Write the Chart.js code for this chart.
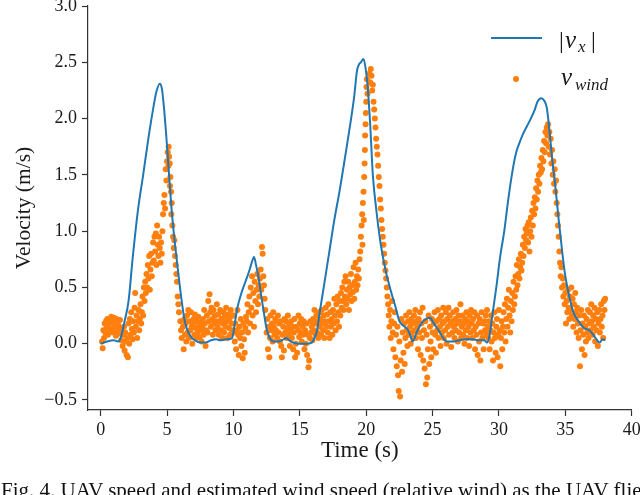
<!DOCTYPE html>
<html>
<head>
<meta charset="utf-8">
<script src="https://cdn.jsdelivr.net/npm/chart.js@4.4.0/dist/chart.umd.min.js"></script>
<style>
  html, body { margin: 0; padding: 0; background: #fff; overflow: hidden; }
  #wrap { position: relative; width: 640px; height: 495px; overflow: hidden; }
  #caption { position: absolute; left: 1px; top: 480px; font: 21px/1 "Liberation Serif", serif; white-space: nowrap; color: #111; }
</style>
</head>
<body>
<div id="wrap">
  <canvas id="chart" width="640" height="495"></canvas>
  <div id="caption">Fig. 4. UAV speed and estimated wind speed (relative wind) as the UAV flies</div>
</div>
<script>
// |v_x| : UAV speed, [time s, velocity m/s]
const vxSamples = [
  [0,0.0],[0.5,0.02],[1.0,0.03],[1.3,0.02],[1.5,0.05],[1.8,0.2],[2.1,0.38],[2.4,0.75],[2.8,1.18],[3.2,1.5],
  [3.6,1.83],[4.0,2.12],[4.2,2.24],[4.45,2.31],[4.6,2.27],[4.75,2.12],[4.95,1.83],[5.15,1.5],[5.35,1.18],[5.6,0.88],
  [5.85,0.62],[6.1,0.38],[6.3,0.22],[6.5,0.13],[6.8,0.06],[7.1,0.03],[7.5,0.01],[7.9,0.01],[8.3,0.03],[8.7,0.04],
  [9.0,0.03],[9.5,0.04],[9.9,0.05],[10.1,0.18],[10.3,0.32],[10.6,0.45],[10.9,0.55],[11.2,0.65],[11.4,0.73],[11.55,0.77],
  [11.7,0.7],[11.9,0.58],[12.1,0.42],[12.3,0.27],[12.5,0.13],[12.7,0.06],[13.0,0.02],[13.4,0.02],[13.8,0.04],[14.0,0.05],
  [14.2,0.03],[14.5,0.01],[15.0,0.0],[15.5,0.0],[15.9,0.01],[16.1,0.05],[16.3,0.12],[16.5,0.28],[16.8,0.5],[17.2,0.8],
  [17.6,1.1],[18.0,1.36],[18.4,1.65],[18.8,1.95],[19.1,2.2],[19.3,2.42],[19.45,2.48],[19.6,2.5],[19.8,2.53],[19.95,2.45],
  [20.1,2.3],[20.3,1.95],[20.5,1.5],[20.8,1.15],[21.1,0.88],[21.5,0.63],[21.9,0.45],[22.2,0.33],[22.5,0.2],[22.8,0.16],
  [23.1,0.13],[23.3,0.08],[23.5,0.02],[23.8,0.1],[24.1,0.17],[24.4,0.21],[24.8,0.23],[25.1,0.18],[25.5,0.11],[25.8,0.05],
  [26.1,0.02],[26.6,0.02],[27.0,0.03],[27.5,0.04],[28.0,0.04],[28.5,0.03],[28.9,0.03],[29.1,0.01],[29.3,0.08],[29.5,0.25],
  [29.8,0.5],[30.1,0.78],[30.4,1.0],[30.7,1.28],[31.0,1.52],[31.3,1.7],[31.5,1.77],[31.8,1.86],[32.1,1.93],[32.4,2.0],
  [32.7,2.08],[32.9,2.15],[33.2,2.18],[33.4,2.16],[33.6,2.1],[33.8,1.9],[34.0,1.65],[34.2,1.45],[34.5,1.1],[34.8,0.78],
  [35.0,0.6],[35.3,0.42],[35.6,0.28],[36.0,0.2],[36.4,0.14],[36.8,0.12],[37.1,0.08],[37.4,0.03],[37.6,0.01],[37.8,0.04],
  [38.0,0.03]
];

// v_wind : estimated wind speed, [time s, velocity m/s]
const windSamples = [
  [0.1,0.02],[0.15,-0.04],[0.2,0.12],[0.25,0.05],[0.3,0.18],[0.35,0.1],[0.4,0.2],[0.45,0.14],[0.5,0.22],[0.55,0.08],
  [0.6,0.16],[0.65,0.21],[0.7,0.11],[0.75,0.19],[0.8,0.24],[0.85,0.13],[0.9,0.2],[0.95,0.1],[1.0,0.23],[1.05,0.15],
  [1.1,0.18],[1.15,0.07],[1.2,0.22],[1.25,0.12],[1.3,0.2],[1.35,0.16],[1.4,0.09],[1.45,0.21],[1.5,0.14],[1.55,0.03],
  [1.6,0.12],[1.65,-0.02],[1.7,0.08],[1.75,0.15],[1.8,-0.06],[1.85,0.1],[1.9,0.02],[1.95,-0.1],[2.0,0.05],[2.05,-0.12],
  [2.1,0.18],[2.15,0.0],[2.2,0.22],[2.25,0.08],[2.3,0.28],[2.35,0.13],[2.4,0.04],
  [2.45,0.2],[2.5,0.1],[2.55,0.32],[2.6,0.45],[2.65,0.15],[2.7,0.25],[2.75,0.05],[2.8,0.2],[2.85,0.3],[2.9,0.12],
  [2.95,0.22],[3.0,0.35],[3.05,0.18],[3.1,0.28],[3.15,0.42],[3.2,0.25],[3.25,0.5],[3.3,0.38],
  [3.35,0.55],[3.4,0.45],[3.45,0.62],[3.5,0.5],[3.55,0.7],[3.6,0.58],[3.65,0.78],[3.7,0.48],[3.75,0.66],[3.8,0.8],
  [3.85,0.6],[3.9,0.72],[3.95,0.9],
  [4.0,0.74],[4.05,0.95],[4.1,0.82],[4.15,0.98],[4.2,0.7],[4.25,1.05],[4.3,0.88],[4.35,0.78],[4.4,0.95],[4.45,0.85],
  [4.5,0.72],[4.55,0.9],[4.6,0.8],[4.65,1.0],[4.7,1.15],[4.75,1.25],[4.8,1.32],[4.85,1.2],[4.9,1.55],[4.95,1.45],
  [5.0,1.62],[5.05,1.7],[5.1,1.58],[5.12,1.75],[5.15,1.66],[5.2,1.6],[5.22,1.4],[5.25,1.48],[5.3,1.35],[5.32,1.15],
  [5.35,1.25],[5.4,1.05],[5.45,0.95],[5.5,0.85],[5.55,0.92],[5.6,0.78],[5.65,0.7],[5.7,0.62],[5.75,0.55],[5.8,0.42],
  [5.85,0.35],[5.9,0.28],[6.0,0.2],[6.05,0.12],[6.1,0.05],
  [6.2,0.15],[6.25,-0.05],[6.3,0.22],[6.35,0.08],[6.4,0.18],[6.45,0.02],[6.5,0.25],[6.55,0.1],[6.6,0.3],[6.65,0.05],
  [6.7,0.2],[6.75,0.12],[6.8,0.28],[6.85,0.15],[6.9,0.0],[6.95,0.18],[7.0,0.22],[7.05,0.08],[7.1,0.26],[7.15,0.14],
  [7.2,0.05],[7.25,0.2],[7.3,0.1],[7.35,0.24],[7.4,0.16],[7.45,0.06],[7.5,0.19],[7.55,0.12],[7.6,0.02],[7.65,0.15],
  [7.7,0.22],[7.75,0.08],[7.8,0.3],[7.85,0.18],[7.9,-0.02],[7.95,0.12],[8.0,0.25],[8.05,0.1],[8.1,0.38],[8.15,0.2],
  [8.2,0.44],[8.25,0.28],[8.3,0.15],[8.35,0.32],[8.4,0.22],[8.45,0.08],[8.5,0.3],[8.55,0.18],[8.6,0.25],[8.65,0.12],
  [8.7,0.2],[8.75,0.35],[8.8,0.15],[8.85,0.26],[8.9,0.08],[8.95,0.2],[9.0,0.3],[9.05,0.12],[9.1,0.22],[9.15,0.05],
  [9.2,0.18],[9.25,0.28],[9.3,0.1],[9.35,0.24],[9.4,0.15],[9.45,0.32],[9.5,0.2],[9.55,0.05],[9.6,0.26],[9.65,0.14],
  [9.7,0.22],[9.75,0.08],[9.8,0.3],[9.85,0.18],[9.9,0.12],[9.95,0.25],
  [10.0,0.1],[10.05,0.25],[10.1,0.02],[10.15,0.18],[10.2,-0.05],[10.25,0.12],[10.3,0.3],[10.35,0.08],[10.4,-0.1],[10.45,0.15],
  [10.5,0.05],[10.55,0.22],[10.6,-0.02],[10.65,0.1],[10.7,-0.13],[10.75,0.18],[10.8,0.04],[10.85,-0.08],[10.9,0.14],[10.95,0.24],
  [11.0,0.2],[11.05,0.35],[11.1,0.1],[11.15,0.28],[11.2,0.42],[11.25,0.18],[11.3,0.5],[11.35,0.32],[11.4,0.6],[11.45,0.25],
  [11.5,0.45],[11.55,0.15],[11.6,0.55],[11.65,0.38],[11.7,0.28],[11.75,0.48],[11.8,0.62],[11.85,0.35],[11.9,0.52],[11.95,0.42],
  [12.0,0.58],[12.05,0.66],[12.1,0.48],[12.15,0.86],[12.2,0.8],[12.25,0.6],[12.3,0.52],[12.35,0.4],[12.4,0.3],
  [12.5,0.1],[12.55,0.22],[12.6,-0.05],[12.65,0.15],[12.7,-0.12],[12.75,0.05],[12.8,0.25],[12.85,0.12],[12.9,0.18],[12.95,0.02],
  [13.0,0.28],[13.05,0.15],[13.1,0.08],[13.15,0.22],[13.2,0.12],[13.25,0.2],[13.3,0.05],[13.35,0.25],[13.4,0.1],[13.45,0.18],
  [13.5,0.02],[13.55,0.2],[13.6,-0.02],[13.65,-0.12],[13.7,0.08],[13.75,0.15],[13.8,-0.06],[13.85,0.22],[13.9,0.1],[13.95,0.2],
  [14.0,0.05],[14.05,0.14],[14.1,0.25],[14.15,0.08],[14.2,0.18],[14.25,-0.02],[14.3,0.12],[14.35,0.2],[14.4,0.05],[14.45,0.15],
  [14.5,-0.05],[14.55,0.1],[14.6,0.22],[14.65,-0.12],[14.7,0.0],[14.75,0.15],[14.8,-0.08],[14.85,0.12],[14.9,0.25],[14.95,0.06],
  [15.0,0.18],[15.05,0.1],[15.1,0.22],[15.15,0.02],[15.2,0.15],[15.25,0.08],[15.3,0.2],[15.35,-0.05],[15.4,0.12],[15.45,0.0],
  [15.5,0.18],[15.55,-0.1],[15.6,0.08],[15.65,-0.21],[15.7,-0.15],[15.75,0.05],[15.8,0.2],[15.85,0.1],[15.9,0.15],[15.95,0.03],
  [16.0,0.22],[16.05,0.12],[16.1,0.3],[16.15,0.18],[16.2,0.08],[16.25,0.25],
  [16.3,0.1],[16.35,0.2],[16.4,0.05],[16.45,0.28],[16.5,0.15],[16.55,0.22],[16.6,0.08],[16.65,0.3],[16.7,0.18],[16.75,0.12],
  [16.8,0.25],[16.85,0.05],[16.9,0.2],[16.95,0.32],[17.0,0.15],[17.05,0.26],[17.1,0.1],[17.15,0.35],[17.2,0.2],[17.25,0.05],
  [17.3,0.28],[17.35,0.15],[17.4,0.22],[17.45,0.08],[17.5,0.3],[17.55,0.18],[17.6,0.4],[17.65,0.25],[17.7,0.12],[17.75,0.35],
  [17.8,0.2],[17.85,0.42],[17.9,0.28],[17.95,0.15],[18.0,0.38],[18.05,0.25],[18.1,0.45],[18.15,0.32],[18.2,0.5],[18.25,0.38],
  [18.3,0.3],[18.35,0.55],[18.4,0.42],[18.45,0.6],[18.5,0.35],[18.55,0.48],[18.6,0.4],[18.65,0.55],[18.7,0.3],[18.75,0.5],
  [18.8,0.44],[18.85,0.62],[18.9,0.38],[18.95,0.52],[19.0,0.46],[19.05,0.68],[19.1,0.4],[19.15,0.55],[19.2,0.72],[19.25,0.48],
  [19.3,0.6],[19.35,0.52],[19.4,0.66],[19.45,0.58],[19.5,0.75],
  [19.55,0.82],[19.6,0.95],[19.65,1.05],[19.7,1.15],[19.72,0.88],[19.75,1.25],[19.8,1.35],[19.82,1.1],[19.85,1.48],[19.88,1.6],
  [19.9,1.72],[19.92,1.85],[19.95,1.95],[19.97,2.05],[20.0,2.15],[20.02,2.28],[20.05,2.35],[20.1,2.22],[20.25,2.4],[20.3,2.32],
  [20.35,2.44],[20.4,2.38],[20.45,2.25],[20.5,2.3],[20.55,2.15],[20.6,2.08],[20.65,2.0],[20.7,1.92],[20.75,1.82],[20.8,1.75],
  [20.85,1.68],[20.9,1.58],[20.95,1.48],[21.0,1.4],[21.05,1.28],[21.1,1.2],[21.15,1.1],[21.2,1.02],[21.25,0.95],[21.3,0.88],
  [21.35,0.8],[21.4,0.72],[21.45,0.65],[21.5,0.58],[21.55,0.5],[21.6,0.42],
  [21.65,0.35],[21.7,0.25],[21.75,0.15],[21.8,0.3],[21.85,0.05],[21.9,0.2],[21.95,0.38],[22.0,0.1],[22.05,-0.05],[22.1,0.18],
  [22.15,0.28],[22.2,-0.12],[22.25,0.08],[22.3,-0.2],[22.35,0.15],[22.4,-0.28],[22.45,-0.42],[22.5,0.02],[22.55,-0.47],[22.6,-0.15],
  [22.65,0.22],[22.7,-0.25],[22.75,0.1],[22.8,-0.08],[22.85,0.18],[22.9,-0.18],[22.95,0.05],[23.0,0.25],[23.05,0.12],[23.1,-0.02],
  [23.15,0.2],[23.2,0.08],[23.25,0.28],[23.3,0.15],[23.35,0.0],[23.4,0.22],[23.45,0.1],[23.5,0.18],[23.55,0.05],[23.6,0.25],
  [23.65,0.12],[23.7,0.3],[23.75,0.05],[23.8,0.2],[23.85,0.15],[23.9,-0.05],[23.95,0.22],[24.0,0.1],[24.05,0.28],[24.1,-0.1],
  [24.15,0.18],[24.2,0.05],[24.25,0.32],[24.3,-0.15],[24.35,0.12],[24.4,-0.22],[24.45,0.2],[24.5,-0.36],[24.55,0.08],[24.6,-0.3],
  [24.65,-0.05],[24.7,0.25],[24.75,-0.18],[24.8,0.15],[24.85,0.02],[24.9,-0.12],[24.95,0.22],[25.0,0.1],
  [25.05,-0.05],[25.1,0.18],[25.15,0.28],[25.2,0.08],[25.25,-0.08],[25.3,0.2],[25.35,0.12],[25.4,0.3],[25.45,0.05],[25.5,0.22],
  [25.55,0.15],[25.6,-0.02],[25.65,0.25],[25.7,0.1],[25.75,0.18],[25.8,0.32],[25.85,0.05],[25.9,0.2],[25.95,0.12],[26.0,0.28],
  [26.05,0.0],[26.1,0.22],[26.15,0.15],[26.2,0.32],[26.25,0.08],[26.3,0.25],[26.35,0.18],[26.4,-0.03],[26.45,0.2],[26.5,0.1],
  [26.55,0.28],[26.6,0.15],[26.65,0.05],[26.7,0.22],[26.75,0.12],[26.8,0.3],[26.85,0.18],[26.9,0.02],[26.95,0.25],[27.0,0.1],
  [27.05,0.2],[27.1,0.35],[27.15,0.05],[27.2,0.15],[27.25,0.25],[27.3,0.08],[27.35,0.18],[27.4,0.0],[27.45,0.22],[27.5,0.12],
  [27.55,0.28],[27.6,0.05],[27.65,0.2],[27.7,0.15],[27.75,-0.02],[27.8,0.25],[27.85,0.1],[27.9,0.3],[27.95,0.18],[28.0,0.05],
  [28.05,0.22],[28.1,0.12],[28.15,0.28],[28.2,-0.05],[28.25,0.15],[28.3,0.08],[28.35,0.25],[28.4,-0.1],[28.45,0.18],[28.5,0.02],
  [28.55,0.22],[28.6,-0.15],[28.65,0.1],[28.7,0.28],[28.75,0.05],[28.8,0.18],[28.85,-0.05],[28.9,0.2],[28.95,0.12],[29.0,0.25],
  [29.05,0.08],[29.1,0.3],[29.15,0.15],
  [29.2,0.05],[29.25,0.2],[29.3,-0.05],[29.35,0.12],[29.4,0.25],[29.45,0.02],[29.5,0.18],[29.55,-0.15],[29.6,0.1],[29.65,0.28],
  [29.7,0.05],[29.75,-0.08],[29.8,0.15],[29.85,0.22],[29.9,-0.12],[29.95,0.08],[30.0,0.3],[30.05,0.12],[30.1,-0.2],[30.15,0.05],
  [30.2,0.2],[30.25,-0.05],[30.3,0.15],[30.35,0.28],[30.4,0.1],[30.45,0.35],[30.5,0.02],[30.55,0.22],[30.6,0.4],[30.65,0.15],
  [30.7,0.32],[30.75,0.48],[30.8,0.25],[30.85,0.1],[30.9,0.38],[30.95,0.2],[31.0,0.45],[31.05,0.3],[31.1,0.55],[31.15,0.35],
  [31.2,0.42],[31.25,0.6],[31.3,0.48],[31.35,0.7],[31.4,0.52],[31.45,0.62],[31.5,0.75],[31.55,0.58],[31.6,0.68],[31.65,0.8],
  [31.7,0.65],[31.75,0.72],[31.8,0.88],[31.85,0.78],[31.9,0.95],[31.95,0.85],[32.0,1.02],[32.05,0.92],[32.1,0.98],[32.15,1.05],
  [32.2,0.9],[32.25,1.08],[32.3,0.82],[32.35,1.0],[32.4,1.12],[32.45,0.95],[32.5,1.18],[32.55,1.05],[32.6,1.25],[32.65,1.15],
  [32.7,1.3],[32.75,1.2],[32.8,1.38],[32.85,1.28],[32.9,1.45],[32.95,1.35],[33.0,1.5],[33.05,1.42],[33.1,1.58],[33.15,1.52],
  [33.2,1.65],[33.25,1.55],[33.3,1.72],[33.35,1.62],[33.4,1.8],[33.45,1.7],[33.5,1.88],[33.55,1.78],[33.6,1.92],[33.65,1.85],
  [33.7,1.95],[33.75,1.75],[33.8,1.88],[33.85,1.68],[33.9,1.82],[33.95,1.6],[34.0,1.72],[34.05,1.5],[34.1,1.62],[34.15,1.42],
  [34.2,1.55],[34.25,1.35],[34.3,1.45],[34.35,1.25],[34.4,1.15],[34.45,1.05],[34.5,0.95],[34.55,0.82],[34.6,0.72],[34.65,0.6],
  [34.7,0.68],[34.75,0.5],[34.8,0.58],[34.85,0.42],[34.9,0.52],[34.95,0.35],[35.0,0.45],[35.05,0.18],[35.1,0.38],[35.15,0.28],
  [35.2,0.48],[35.25,0.32],[35.3,0.22],[35.35,0.42],[35.4,0.3],[35.45,0.5],[35.5,0.25],[35.55,0.4],[35.6,0.15],[35.65,0.35],
  [35.7,0.22],[35.75,0.45],[35.8,0.28],[35.85,0.1],[35.9,0.32],[35.95,0.18],[36.0,0.05],[36.05,0.25],[36.1,-0.2],[36.15,0.12],
  [36.2,0.3],[36.25,-0.05],[36.3,0.18],[36.35,0.08],[36.4,0.25],[36.45,-0.1],[36.5,0.15],[36.55,0.02],[36.6,0.22],[36.65,0.1],
  [36.7,0.3],[36.75,0.05],[36.8,0.18],[36.85,0.28],[36.9,0.12],[36.95,0.35],[37.0,0.2],[37.05,0.08],[37.1,0.25],[37.15,0.15],
  [37.2,0.32],[37.25,0.02],[37.3,0.22],[37.35,0.12],[37.4,0.28],[37.45,-0.02],[37.5,0.18],[37.55,0.3],[37.6,0.1],[37.65,0.22],
  [37.7,0.35],[37.75,0.15],[37.8,0.25],[37.85,0.05],[37.9,0.38],[37.95,0.3],[38.0,0.4]
];

const xTicks = [0, 5, 10, 15, 20, 25, 30, 35, 40];
const yTicks = [-0.5, 0.0, 0.5, 1.0, 1.5, 2.0, 2.5, 3.0];

const vxColor = "#1f77b4";
const windColor = "#ff7f0e";
const axisColor = "#333";
const textColor = "#1a1a1a";
const serif = '"Liberation Serif", "Times New Roman", serif';

// legend with math-style labels, drawn in the top right
const mathLegend = {
  id: "mathLegend",
  afterDraw(chart) {
    const ctx = chart.ctx;
    ctx.save();
    ctx.strokeStyle = vxColor;
    ctx.lineWidth = 2.2;
    ctx.beginPath();
    ctx.moveTo(491, 38);
    ctx.lineTo(542, 38);
    ctx.stroke();
    ctx.fillStyle = windColor;
    ctx.beginPath();
    ctx.arc(516, 79, 3, 0, Math.PI * 2);
    ctx.fill();

    ctx.fillStyle = textColor;
    ctx.textBaseline = "alphabetic";
    ctx.textAlign = "left";
    ctx.font = "24px " + serif;
    ctx.fillText("|", 559, 48);
    ctx.font = "italic 25px " + serif;
    ctx.fillText("v", 565, 48);
    ctx.font = "italic 17px " + serif;
    ctx.fillText("x", 578, 52);
    ctx.font = "24px " + serif;
    ctx.fillText("|", 591, 48);

    ctx.font = "italic 25px " + serif;
    ctx.fillText("v", 561, 85);
    ctx.font = "italic 17px " + serif;
    ctx.fillText("wind", 575, 90);
    ctx.restore();
  }
};

new Chart(document.getElementById("chart"), {
  type: "scatter",
  data: {
    datasets: [
      {
        label: "|v_x|",
        data: vxSamples.map(p => ({ x: p[0], y: p[1] })),
        showLine: true,
        borderColor: vxColor,
        borderWidth: 2,
        pointRadius: 0,
        cubicInterpolationMode: "monotone"
      },
      {
        label: "v_wind",
        data: windSamples.map(p => ({ x: p[0], y: p[1] })),
        backgroundColor: windColor,
        borderWidth: 0,
        pointRadius: 3
      }
    ]
  },
  options: {
    responsive: false,
    animation: false,
    layout: { padding: { top: 6, right: 8.3, bottom: 0, left: 0 } },
    plugins: { legend: { display: false }, tooltip: { enabled: false } },
    scales: {
      x: {
        type: "linear",
        min: -0.956,
        max: 40,
        afterBuildTicks: s => { s.ticks = xTicks.map(v => ({ value: v })); },
        afterFit: s => { s.height = 85; s.paddingLeft = 0; s.paddingRight = 0; },
        grid: { drawOnChartArea: false, drawTicks: true, tickLength: 6, tickWidth: 1.2, tickColor: axisColor },
        border: { display: true, color: axisColor, width: 1.2 },
        ticks: {
          autoSkip: false, maxRotation: 0, padding: 3, color: textColor,
          font: { family: serif, size: 18 },
          callback: v => String(v)
        },
        title: {
          display: true, text: "Time (s)", color: textColor,
          font: { family: serif, size: 23 },
          padding: { top: 0, bottom: 30.5 }
        }
      },
      y: {
        type: "linear",
        min: -0.589,
        max: 3.0,
        afterBuildTicks: s => { s.ticks = yTicks.map(v => ({ value: v })); },
        afterFit: s => { s.width = 88; s.paddingTop = 0; s.paddingBottom = 0; },
        grid: { drawOnChartArea: false, drawTicks: true, tickLength: 6, tickWidth: 1.2, tickColor: axisColor },
        border: { display: true, color: axisColor, width: 1.2 },
        ticks: {
          autoSkip: false, padding: 5, color: textColor,
          font: { family: serif, size: 18 },
          callback: v => v.toFixed(1).replace("-", "\u2212")
        },
        title: {
          display: true, text: "Velocity (m/s)", color: textColor,
          font: { family: serif, size: 21.5 },
          padding: { top: 11.8, bottom: 0 }
        }
      }
    }
  },
  plugins: [mathLegend]
});
</script>
</body>
</html>
